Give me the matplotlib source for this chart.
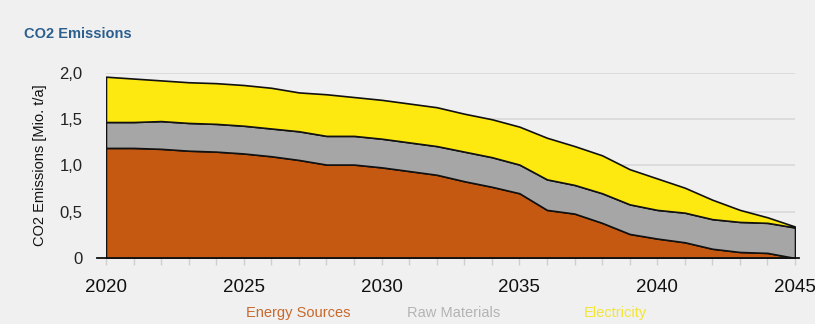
import numpy as np
import matplotlib.pyplot as plt
from matplotlib.ticker import FixedLocator, FuncFormatter

plt.rcParams['font.family'] = ['Liberation Sans', 'DejaVu Sans']

years = list(range(2020, 2046))
energy_sources = [1.19, 1.19, 1.18, 1.16, 1.15, 1.13, 1.10, 1.06, 1.01, 1.01, 0.98, 0.94, 0.90,
                  0.83, 0.77, 0.70, 0.52, 0.48, 0.38, 0.26, 0.21, 0.17, 0.10, 0.065, 0.055, 0.0]
raw_materials = [0.28, 0.28, 0.30, 0.30, 0.30, 0.30, 0.30, 0.31, 0.31, 0.31, 0.31, 0.31, 0.31,
                 0.32, 0.32, 0.31, 0.33, 0.31, 0.32, 0.32, 0.31, 0.32, 0.32, 0.325, 0.325, 0.33]
electricity = [0.49, 0.47, 0.44, 0.44, 0.44, 0.44, 0.44, 0.42, 0.45, 0.42, 0.42, 0.42, 0.42,
               0.41, 0.41, 0.41, 0.45, 0.42, 0.41, 0.38, 0.34, 0.27, 0.21, 0.13, 0.06, 0.01]
labels = ["Energy Sources", "Raw Materials", "Electricity"]
colors = ["#c65911", "#a6a6a6", "#fde910"]
label_colors = ["#c8692a", "#b4b4b4", "#f2e633"]

bg = "#f0f0f0"
fig = plt.figure(figsize=(8.15, 3.24), dpi=100, facecolor=bg)
ax = fig.add_axes([0.130, 0.2037, 0.8455, 0.571], facecolor=bg)

ax.stackplot(years, energy_sources, raw_materials, electricity, colors=colors,
             edgecolor="#111111", linewidth=1.2, zorder=2)

ax.set_xlim(2020, 2045)
ax.set_ylim(0, 2.0)
ax.set_yticks([0, 0.5, 1.0, 1.5, 2.0])
ax.yaxis.set_major_formatter(FuncFormatter(
    lambda v, p: "0" if v == 0 else f"{v:.1f}".replace(".", ",")))
ax.grid(axis="y", color="#d9d9d9", linewidth=1.2, zorder=0)
ax.tick_params(axis="y", length=0, pad=17, labelsize=12, labelcolor="#222222")

ax.set_xticks(range(2020, 2046, 5))
ax.xaxis.set_minor_locator(FixedLocator(years))
ax.tick_params(axis="x", which="both", length=5, color="#cfcfcf", width=1,
               labelsize=13.5, pad=10, labelcolor="#111111")

for s in ["top", "right", "left", "bottom"]:
    ax.spines[s].set_visible(False)
# baseline runs a little past the plot on both sides
ax.plot([-0.013, 1.006], [0, 0], transform=ax.transAxes, color="#111111",
        linewidth=1.3, clip_on=False, zorder=3)

ax.set_ylabel("CO2 Emissions [Mio. t/a]", fontsize=10.5, color="#111111", labelpad=9)

fig.text(0.030, 0.895, "CO2 Emissions", fontsize=10.5, fontweight="bold", color="#2c5f8e",
         ha="left", va="center")

for lbl, c, xc in zip(labels, label_colors, [0.366, 0.556, 0.755]):
    fig.text(xc, 0.033, lbl, fontsize=10.5, color=c, ha="center", va="center")

fig.savefig("out.png", dpi=100, facecolor=bg)
